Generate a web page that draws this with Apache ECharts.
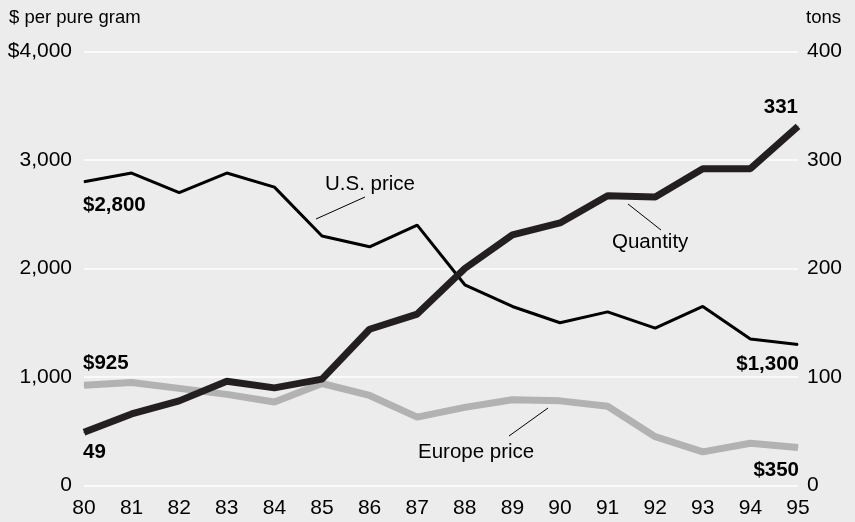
<!DOCTYPE html>
<html>
<head>
<meta charset="utf-8">
<script src="https://cdn.jsdelivr.net/npm/echarts@6/dist/echarts.min.js"></script>
<style>
  html, body { margin: 0; padding: 0; background: #ececec; }
  #chart { width: 855px; height: 522px; }
</style>
</head>
<body>
<div id="chart"></div>
<script>
// years on the x axis
const years = ['80', '81', '82', '83', '84', '85', '86', '87', '88', '89', '90', '91', '92', '93', '94', '95']
// $ per pure gram
const usPrice = [2800, 2880, 2700, 2880, 2750, 2300, 2200, 2400, 1850, 1650, 1500, 1600, 1450, 1650, 1350, 1300]
const europePrice = [925, 950, 895, 840, 770, 940, 830, 630, 720, 790, 780, 730, 450, 310, 390, 350]
// tons
const quantity = [49, 66, 78, 96, 90, 98, 144, 158, 200, 231, 242, 267, 266, 292, 292, 331]

const leftTicks = [0, 1000, 2000, 3000, 4000]
const rightTicks = [0, 100, 200, 300, 400]

const FONT = '"Liberation Sans", Arial, Helvetica, sans-serif'

function fmtMoney(v) {
  return String(v).replace(/\B(?=(\d{3})+(?!\d))/g, ',')
}

// put a bold label on the first / last point only
function withEndLabels(arr, first, last) {
  return arr.map((v, i) => {
    if (i === 0 && first) return { value: v, label: Object.assign({ show: true }, first) }
    if (i === arr.length - 1 && last) return { value: v, label: Object.assign({ show: true }, last) }
    return v
  })
}

const boldLabel = {
  fontFamily: FONT, fontSize: 20.5, fontWeight: 'bold', color: '#000'
}

const chart = echarts.init(document.getElementById('chart'))

const option = {
  backgroundColor: '#ececec',
  animation: false,
  grid: { left: 84, right: 57, top: 51.5, bottom: 36.5 },
  xAxis: {
    type: 'category',
    data: years,
    boundaryGap: false,
    axisLine: { show: false },
    axisTick: { show: false },
    axisLabel: { fontFamily: FONT, fontSize: 21, color: '#000', margin: 12 }
  },
  yAxis: [
    {
      type: 'value',
      min: leftTicks[0],
      max: leftTicks[leftTicks.length - 1],
      interval: 1000,
      axisLine: { show: false },
      axisTick: { show: false },
      splitLine: { lineStyle: { color: '#ffffff', width: 1.5 } },
      axisLabel: {
        fontFamily: FONT, fontSize: 21, color: '#000', margin: 12,
        formatter: v => (v === 4000 ? '$' : '') + fmtMoney(v)
      }
    },
    {
      type: 'value',
      min: rightTicks[0],
      max: rightTicks[rightTicks.length - 1],
      interval: 100,
      axisLine: { show: false },
      axisTick: { show: false },
      splitLine: { show: false },
      axisLabel: { fontFamily: FONT, fontSize: 21, color: '#000', margin: 9 }
    }
  ],
  series: [
    {
      name: 'Europe price',
      type: 'line',
      yAxisIndex: 0,
      data: withEndLabels(europePrice,
        Object.assign({ position: 'top', align: 'left', offset: [-1, -6], formatter: '$925' }, boldLabel),
        Object.assign({ position: 'bottom', align: 'right', offset: [1, 7], formatter: '$350' }, boldLabel)),
      symbol: 'circle',
      symbolSize: 1,
      itemStyle: { color: '#b2b2b2' },
      lineStyle: { color: '#b2b2b2', width: 7 },
      z: 2
    },
    {
      name: 'U.S. price',
      type: 'line',
      yAxisIndex: 0,
      data: withEndLabels(usPrice,
        Object.assign({ position: 'bottom', align: 'left', offset: [-1, 8], formatter: '$2,800' }, boldLabel),
        Object.assign({ position: 'bottom', align: 'right', offset: [1, 4], formatter: '$1,300' }, boldLabel)),
      symbol: 'circle',
      symbolSize: 1,
      itemStyle: { color: '#000' },
      lineStyle: { color: '#000', width: 3 },
      z: 3
    },
    {
      name: 'Quantity',
      type: 'line',
      yAxisIndex: 1,
      data: withEndLabels(quantity,
        Object.assign({ position: 'bottom', align: 'left', offset: [-1, 4], formatter: '49' }, boldLabel),
        Object.assign({ position: 'top', align: 'right', offset: [0, -3], formatter: '331' }, boldLabel)),
      symbol: 'circle',
      symbolSize: 1,
      itemStyle: { color: '#231f20' },
      lineStyle: { color: '#231f20', width: 7 },
      z: 4
    }
  ],
  graphic: [
    { type: 'text', left: 9, top: 8, style: { text: '$ per pure gram', font: '18.5px ' + FONT, fill: '#000' } },
    { type: 'text', right: 14, top: 8, style: { text: 'tons', font: '18.5px ' + FONT, fill: '#000' } },
    { type: 'text', x: 325, y: 184, style: { text: 'U.S. price', font: '20.5px ' + FONT, fill: '#000', verticalAlign: 'middle' } },
    { type: 'line', shape: { x1: 316, y1: 219, x2: 365, y2: 197 }, style: { stroke: '#000', lineWidth: 1 } },
    { type: 'text', x: 612, y: 242, style: { text: 'Quantity', font: '20.5px ' + FONT, fill: '#000', verticalAlign: 'middle' } },
    { type: 'line', shape: { x1: 628, y1: 204, x2: 661, y2: 230 }, style: { stroke: '#000', lineWidth: 1 } },
    { type: 'text', x: 418, y: 452, style: { text: 'Europe price', font: '20.5px ' + FONT, fill: '#000', verticalAlign: 'middle' } },
    { type: 'line', shape: { x1: 509, y1: 436, x2: 548, y2: 408 }, style: { stroke: '#000', lineWidth: 1 } }
  ]
}

chart.setOption(option)
</script>
</body>
</html>
